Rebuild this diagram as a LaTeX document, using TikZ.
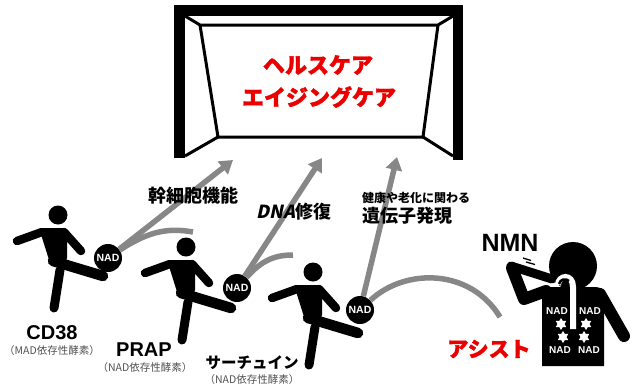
\documentclass[tikz,border=0pt]{standalone}
\usepackage{fontspec}
\setmainfont{Liberation Sans}
\newfontfamily\jp{Noto Sans CJK JP}
\newfontfamily\jpheavy{Noto Sans CJK JP}[FakeBold=1.6]
\newfontfamily\jpslant{Noto Sans CJK JP}[FakeSlant=0.22]
\usetikzlibrary{arrows.meta,shapes.geometric}

\definecolor{passgray}{RGB}{135,135,135}
\definecolor{goalred}{RGB}{235,0,0}
\definecolor{notegray}{RGB}{80,80,80}

\tikzset{
  % kicking pictogram, origin at the centre of the head
  kicker/.pic={
    \fill (0,0) circle (9.5pt);
    \fill[rounded corners=3pt] (-19,13) -- (9,13) -- (9,46) -- (-8,48) -- cycle;
    \draw[line width=8.5,line cap=round] (-41,26) -- (-16,17);
    \draw[line width=8.5,line cap=round] (6,17) -- (23,36);
    \draw[line width=10.5,line cap=round] (-5,46) -- (45,61);
    \draw[line width=9,line cap=round] (2,55) -- (-4,93);
  },
  ball/.style={circle,fill=black,minimum size=28pt,inner sep=0pt,text=white,
    font=\bfseries\fontsize{10.5}{10.5}\selectfont},
  bodynad/.style={text=white,inner sep=0pt,font=\bfseries\fontsize{10}{10}\selectfont},
  burst/.style={star,star points=6,star point ratio=1.7,fill=white,minimum size=12pt,inner sep=0pt},
  pass/.style={draw=passgray,line width=5.5},
  shot/.style={pass,-{Triangle[width=16,length=13]}},
  goalline/.style={line width=3,line join=round},
  goaltext/.style={text=goalred,font=\jpheavy\bfseries\fontsize{22}{22}\selectfont},
  topic/.style={font=\jp\bfseries\fontsize{18}{18}\selectfont},
  playername/.style={font=\bfseries\fontsize{20}{20}\selectfont},
  enzymenote/.style={text=notegray,font=\jp\fontsize{10.5}{10.5}\selectfont},
}

\begin{document}
\begin{tikzpicture}[x=1pt,y=-1pt]
\useasboundingbox (0,0) rectangle (639,391);

% goal frame
\fill (174,5) rectangle (463,16);
\fill (174,5) rectangle (185,158);
\fill (453,5) rectangle (463,160);
\draw[goalline] (185,16) -- (200,25) -- (438,25) -- (453,16);
\draw[goalline] (200,25) -- (218,137) -- (423,137) -- (438,25);
\draw[goalline] (185,156) -- (218,137);
\draw[goalline] (453,156) -- (423,137);
\node[goaltext] (goal1) at (318,65) {ヘルスケア};
\node[goaltext] (goal2) at (319,97) {エイジングケア};

% players
\pic at (58,215) {kicker};
\pic at (186,247) {kicker};
\pic at (313,272) {kicker};

\node[ball] (b1) at (108,258) {NAD};
\node[ball] (b2) at (237,288) {NAD};
\node[ball] (b3) at (360,310) {NAD};

% shots towards the goal
\coordinate (t1) at (233,160);
\coordinate (t2) at (322,158);
\coordinate (t3) at (397,157);
\draw[shot] (b1) -- (t1);
\draw[shot] (b2) -- (t2);
\draw[shot] (b3) -- (t3);

% passes
\coordinate (p1) at (193,232);
\coordinate (p2) at (293,255);
\coordinate (p3) at (500,317);
\draw[pass] (b1) .. controls (150,230) and (170,228) .. (p1);
\draw[pass] (b2) .. controls (262,260) and (275,255) .. (p2);
\draw[pass] (b3) .. controls (405,268) and (470,268) .. (p3);

% topics
\node[topic] (stem) at (193,196) {幹細胞機能};
\node[font=\bfseries\fontsize{18}{18}\selectfont] (dna) at (294,212) {{\jpslant DNA}{\jp 修復}};
\node[anchor=west,inner sep=0pt,font=\jp\bfseries\fontsize{12}{12}\selectfont] (gene1) at (362,198) {健康や老化に関わる};
\node[topic,anchor=west,inner sep=0pt] (gene2) at (362,216) {遺伝子発現};

% player names
\node[playername] (cd38) at (52,333) {CD38};
\node[enzymenote] (cd38n) at (52,351) {（MAD依存性酵素）};
\node[playername] (prap) at (144,350) {PRAP};
\node[enzymenote] (prapn) at (145,368) {（NAD依存性酵素）};
\node[font=\jp\bfseries\fontsize{15.5}{15.5}\selectfont] (sirt) at (252,363) {サーチュイン};
\node[enzymenote] (sirtn) at (252,380) {（NAD依存性酵素）};

% NMN drinker
\fill (573,266) circle (24pt);
\fill (542,366) -- (542,287) [rounded corners=8pt] -- (604,287) [sharp corners] -- (604,366) -- cycle;
\draw[line width=12,line cap=round] (600,294) -- (624,336);
\draw[line width=12,line cap=round,line join=round] (512,268) -- (524,299) -- (546,291);
\draw[line width=9,line cap=round] (511,266) -- (552,279);
\draw[line width=1.3] (523,258) -- (531,260.5) (526,262) -- (535,264.5);
\draw[white,line width=6] (558,285) .. controls (558,275) and (573,273) .. (573,287) -- (573,329);
\draw[line width=2.5] (559,284) .. controls (560,279) and (566,278) .. (569,281);

\node[bodynad] (n1) at (557,311) {NAD};
\node[bodynad] (n2) at (590,311) {NAD};
\node[bodynad] (n3) at (560,350) {NAD};
\node[bodynad] (n4) at (589,350) {NAD};
\node[burst] (s1) at (561,324) {};
\node[burst] (s2) at (586,324) {};
\node[burst] (s3) at (563,337) {};
\node[burst] (s4) at (584,337) {};

\node[font=\bfseries\fontsize{25}{25}\selectfont] (nmn) at (510,243) {NMN};
\node[text=goalred,font=\jpheavy\bfseries\fontsize{21}{21}\selectfont] (assist) at (489,349) {アシスト};
\end{tikzpicture}
\end{document}
